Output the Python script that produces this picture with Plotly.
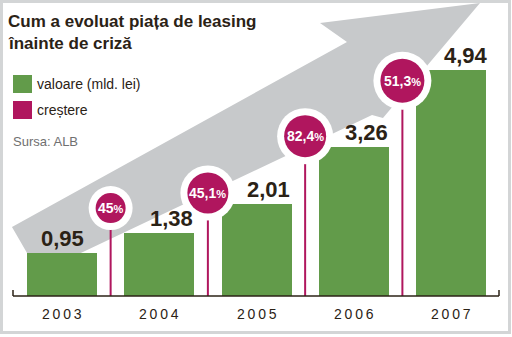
import plotly.graph_objects as go

# ---- data ----
years = ["2003", "2004", "2005", "2006", "2007"]
values = [0.95, 1.38, 2.01, 3.26, 4.94]
value_labels = ["0,95", "1,38", "2,01", "3,26", "4,94"]
growth_labels = ["45", "45,1", "82,4", "51,3"]

# ---- styling / layout (positions kept apart from data) ----
W, H = 512, 337
GREEN = "#629b4a"
MAGENTA = "#b0165e"
ARROW = "#c7c9cb"
DARK = "#2b2216"
FONT = "Liberation Sans, Arial, Helvetica, sans-serif"

pin_heights = [1.92, 2.25, 3.49, 4.70]      # circle centres in value units
pin_diam = [30, 41, 42, 44]
label_xshift = [0, 12, 12, 13, 15]

x_range = [-0.6375, 4.627]
y_range = [-0.895, 6.463]

def fx(px):
    return px / W

def fy(py):
    return 1 - py / H

idx = list(range(len(years)))
pin_x = [i + 0.5 for i in range(len(growth_labels))]

fig = go.Figure()

# bars
fig.add_trace(go.Bar(x=idx, y=values, width=0.72, marker=dict(color=GREEN, line=dict(width=0)),
                     hoverinfo="skip", showlegend=False))

# pins
px_, py_ = [], []
for x, h in zip(pin_x, pin_heights):
    px_ += [x, x, None]
    py_ += [0, h, None]
fig.add_trace(go.Scatter(x=px_, y=py_, mode="lines", line=dict(color=MAGENTA, width=2),
                         hoverinfo="skip", showlegend=False))
# white rings
fig.add_trace(go.Scatter(x=pin_x, y=pin_heights, mode="markers",
                         marker=dict(color="white", opacity=1, size=[d + 14 for d in pin_diam],
                                     line=dict(width=0)),
                         hoverinfo="skip", showlegend=False))
# magenta circles
fig.add_trace(go.Scatter(x=pin_x, y=pin_heights, mode="markers",
                         marker=dict(color=MAGENTA, opacity=1, size=pin_diam, line=dict(width=0)),
                         hoverinfo="skip", showlegend=False))

shapes = []
# big gray arrow (decoration)
pts = [(12, 227), (347, 42), (320, 23), (480, 3), (383, 118), (372, 115), (38.6, 273)]
path = "M " + " L ".join(f"{fx(a):.4f},{fy(b):.4f}" for a, b in pts) + " Z"
shapes.append(dict(type="path", xref="paper", yref="paper", path=path,
                   fillcolor=ARROW, line=dict(width=0), layer="below"))
# baseline axis with end ticks
shapes.append(dict(type="line", xref="paper", yref="y", x0=fx(13), x1=fx(499), y0=0, y1=0,
                   line=dict(color=DARK, width=1.5), layer="above"))
for xe in (13, 499):
    shapes.append(dict(type="line", xref="paper", yref="paper", x0=fx(xe), x1=fx(xe),
                       y0=fy(296), y1=fy(290), line=dict(color=DARK, width=1.5), layer="above"))
# frame
shapes.append(dict(type="rect", xref="paper", yref="paper", x0=fx(1.5), x1=fx(509.5),
                   y0=fy(332.5), y1=fy(1.5), line=dict(color="#d3d5d6", width=3), layer="above"))
# legend squares
shapes.append(dict(type="rect", xref="paper", yref="paper", x0=fx(13), x1=fx(32), y0=fy(93), y1=fy(75),
                   fillcolor=GREEN, line=dict(width=0)))
shapes.append(dict(type="rect", xref="paper", yref="paper", x0=fx(13), x1=fx(32), y0=fy(119), y1=fy(101),
                   fillcolor=MAGENTA, line=dict(width=0)))

ann = []
# title
ann.append(dict(xref="paper", yref="paper", x=fx(6), y=fy(33), xanchor="left", yanchor="bottom",
                text="<b>Cum a evoluat piața de leasing</b>", showarrow=False,
                font=dict(family=FONT, size=17, color=DARK)))
ann.append(dict(xref="paper", yref="paper", x=fx(6), y=fy(55), xanchor="left", yanchor="bottom",
                text="<b>înainte de criză</b>", showarrow=False,
                font=dict(family=FONT, size=17, color=DARK)))
# legend texts
ann.append(dict(xref="paper", yref="paper", x=fx(35), y=fy(84), xanchor="left", yanchor="middle",
                text="valoare (mld. lei)", showarrow=False, font=dict(family=FONT, size=14, color=DARK)))
ann.append(dict(xref="paper", yref="paper", x=fx(35), y=fy(110), xanchor="left", yanchor="middle",
                text="creștere", showarrow=False, font=dict(family=FONT, size=14, color=DARK)))
ann.append(dict(xref="paper", yref="paper", x=fx(11), y=fy(141), xanchor="left", yanchor="middle",
                text="Sursa: ALB", showarrow=False, font=dict(family=FONT, size=13, color="#707070")))

# value labels
for i, (v, t) in enumerate(zip(values, value_labels)):
    ann.append(dict(x=i, y=v, xref="x", yref="y", xanchor="center", yanchor="bottom",
                    text=f"<b>{t}</b>", showarrow=False, xshift=label_xshift[i], yshift=0,
                    font=dict(family=FONT, size=22, color=DARK)))
# year labels
for i, yr in enumerate(years):
    ann.append(dict(x=i, y=0, xref="x", yref="y", xanchor="center", yanchor="top",
                    text="\u2009".join(yr), showarrow=False, yshift=-8,
                    font=dict(family=FONT, size=14, color=DARK)))
# growth labels
for x, h, g, d in zip(pin_x, pin_heights, growth_labels, pin_diam):
    ann.append(dict(x=x, y=h, xref="x", yref="y", xanchor="center", yanchor="middle",
                    text=f"<b>{g}<span style='font-size:11px'>%</span></b>", showarrow=False,
                    font=dict(family=FONT, size=14, color="white")))

fig.update_layout(
    width=W, height=H, margin=dict(l=0, r=0, t=0, b=0),
    paper_bgcolor="white", plot_bgcolor="white",
    xaxis=dict(range=x_range, visible=False, fixedrange=True),
    yaxis=dict(range=y_range, visible=False, fixedrange=True),
    shapes=shapes, annotations=ann, bargap=0, showlegend=False,
)

fig.write_html("out.html", config={"displayModeBar": False})
